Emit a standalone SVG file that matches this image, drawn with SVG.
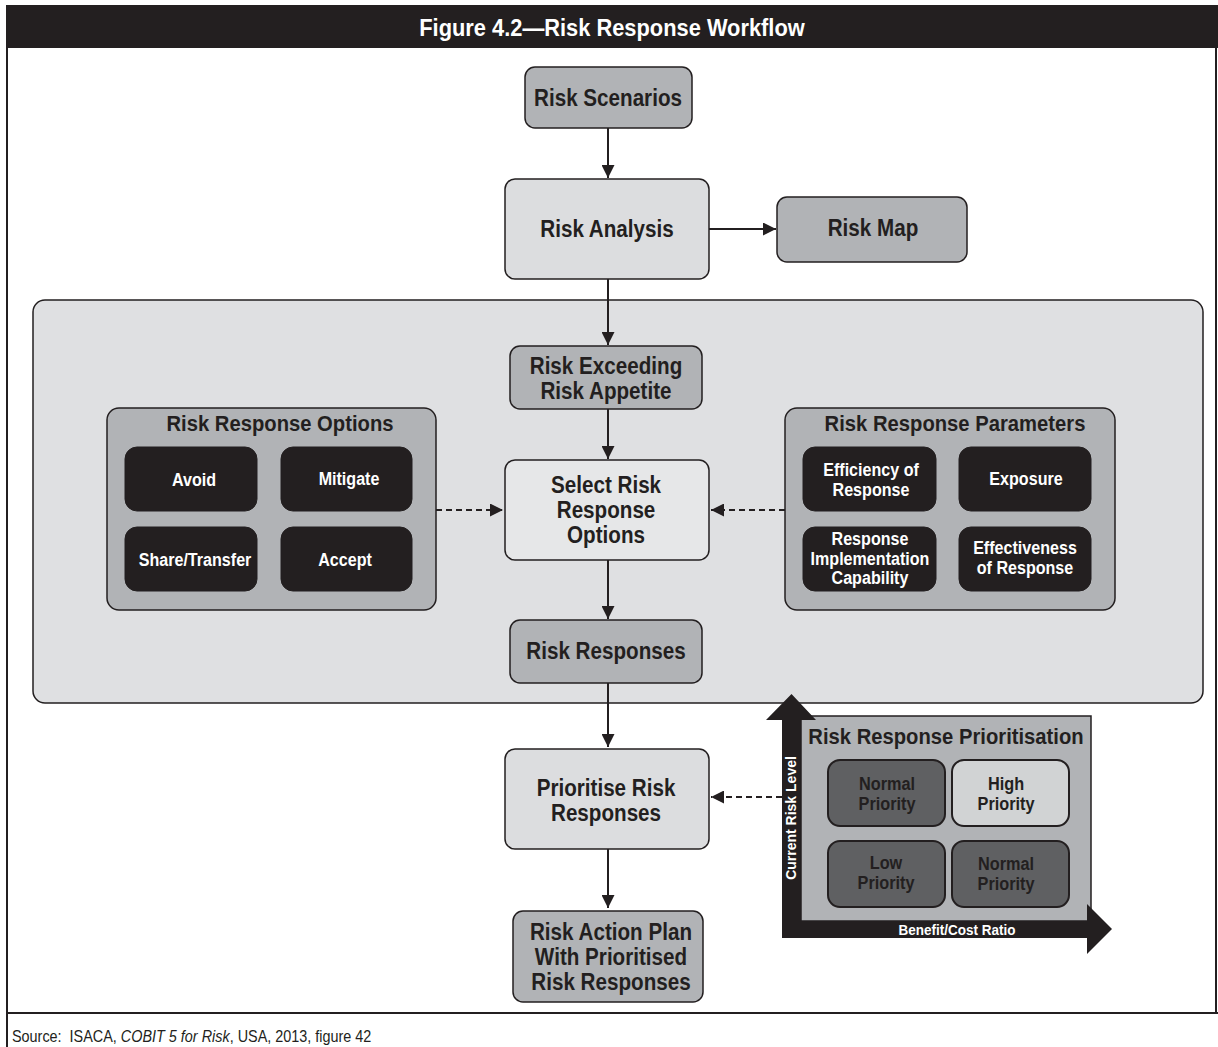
<svg xmlns="http://www.w3.org/2000/svg" width="1218" height="1047" viewBox="0 0 1218 1047">
<defs>
<style>
.lbl{font-family:"Liberation Sans",Arial,sans-serif;font-weight:bold;text-anchor:middle;transform-box:fill-box;transform-origin:center}
.n{font-size:24px;fill:#231f20;transform:scaleX(0.86)}
.g{font-size:22px;fill:#231f20;transform:scaleX(0.92)}
.w{font-size:18.5px;fill:#ffffff;transform:scaleX(0.87)}
.p{font-size:18.5px;fill:#231f20;transform:scaleX(0.88)}
.ttl{font-size:23px;fill:#ffffff;transform:scaleX(0.95)}
.ax{font-size:15px;fill:#ffffff;transform:scaleX(0.9)}
.src{font-family:"Liberation Sans",Arial,sans-serif;font-size:16px;fill:#231f20;transform-box:fill-box;transform-origin:left center;transform:scaleX(0.9)}
.mid{fill:#b1b3b6;stroke:#231f20;stroke-width:1.5}
.light{fill:#dcdddf;stroke:#231f20;stroke-width:1.5}
.lighter{fill:#e6e7e8;stroke:#231f20;stroke-width:1.5}
.blk{fill:#231f20;stroke:#231f20;stroke-width:1}
.dk{fill:#5f6062;stroke:#231f20;stroke-width:2}
.hi{fill:#d1d3d4;stroke:#231f20;stroke-width:2}
.c{stroke:#231f20;stroke-width:2;fill:none}
.d{stroke:#231f20;stroke-width:2;fill:none;stroke-dasharray:6 4}
</style>
<marker id="ah" viewBox="0 0 13 13" refX="13" refY="6.5" markerWidth="13" markerHeight="13" markerUnits="userSpaceOnUse" orient="auto">
<path d="M0,0 L13,6.5 L0,13 Z" fill="#231f20"/>
</marker>
</defs>
<rect width="1218" height="1047" fill="#ffffff"/>
<g id="frame">
<rect x="6" y="5" width="1212" height="43" fill="#231f20"/>
<text x="612" y="36" class="lbl ttl">Figure 4.2—Risk Response Workflow</text>
<line x1="7" y1="48" x2="7" y2="1047" stroke="#231f20" stroke-width="2"/>
<line x1="1216" y1="48" x2="1216" y2="1013" stroke="#231f20" stroke-width="2"/>
<line x1="6" y1="1013" x2="1218" y2="1013" stroke="#231f20" stroke-width="2"/>
<text x="12" y="1042" class="src">Source:&#160; ISACA, <tspan font-style="italic">COBIT 5 for Risk</tspan>, USA, 2013, figure 42</text>
</g>
<g id="panel-main">
<rect x="33" y="300" width="1170" height="403" rx="12" fill="#dfe0e2" stroke="#231f20" stroke-width="1.5"/>
</g>
<g id="risk-scenarios">
<rect x="525" y="67" width="167" height="61" rx="10" class="mid"/>
<text x="608" y="106" class="lbl n">Risk Scenarios</text>
</g>
<g id="risk-analysis">
<rect x="505" y="179" width="204" height="100" rx="10" class="light"/>
<text x="607" y="237" class="lbl n">Risk Analysis</text>
</g>
<g id="risk-map">
<rect x="777" y="197" width="190" height="65" rx="10" class="mid"/>
<text x="873" y="236" class="lbl n">Risk Map</text>
</g>
<g id="risk-exceeding">
<rect x="510" y="346" width="192" height="63" rx="10" class="mid"/>
<text class="lbl n"><tspan x="606" y="374">Risk Exceeding</tspan><tspan x="606" y="399">Risk Appetite</tspan></text>
</g>
<g id="select-options">
<rect x="505" y="460" width="204" height="100" rx="10" class="lighter"/>
<text class="lbl n"><tspan x="606" y="493">Select Risk</tspan><tspan x="606" y="518">Response</tspan><tspan x="606" y="543">Options</tspan></text>
</g>
<g id="risk-responses">
<rect x="510" y="620" width="192" height="63" rx="10" class="mid"/>
<text x="606" y="659" class="lbl n">Risk Responses</text>
</g>
<g id="prioritise">
<rect x="505" y="749" width="204" height="100" rx="10" class="light"/>
<text class="lbl n"><tspan x="606" y="796">Prioritise Risk</tspan><tspan x="606" y="821">Responses</tspan></text>
</g>
<g id="action-plan">
<rect x="513" y="911" width="190" height="91" rx="10" class="mid"/>
<text class="lbl n"><tspan x="611" y="940">Risk Action Plan</tspan><tspan x="611" y="965">With Prioritised</tspan><tspan x="611" y="990">Risk Responses</tspan></text>
</g>
<g id="options-panel">
<rect x="107" y="408" width="329" height="202" rx="12" class="mid"/>
<text x="280" y="431" class="lbl g">Risk Response Options</text>
<g id="opt-avoid"><rect x="125" y="447" width="132" height="64" rx="12" class="blk"/><text x="194" y="486" class="lbl w">Avoid</text></g>
<g id="opt-mitigate"><rect x="281" y="447" width="131" height="64" rx="12" class="blk"/><text x="349" y="485" class="lbl w">Mitigate</text></g>
<g id="opt-share"><rect x="125" y="527" width="132" height="64" rx="12" class="blk"/><text x="195" y="566" class="lbl w">Share/Transfer</text></g>
<g id="opt-accept"><rect x="281" y="527" width="131" height="64" rx="12" class="blk"/><text x="345" y="566" class="lbl w">Accept</text></g>
</g>
<g id="params-panel">
<rect x="785" y="408" width="330" height="202" rx="12" class="mid"/>
<text x="955" y="431" class="lbl g">Risk Response Parameters</text>
<g id="par-efficiency"><rect x="803" y="447" width="133" height="64" rx="12" class="blk"/><text class="lbl w"><tspan x="871" y="476">Efficiency of</tspan><tspan x="871" y="496">Response</tspan></text></g>
<g id="par-exposure"><rect x="959" y="447" width="132" height="64" rx="12" class="blk"/><text x="1026" y="485" class="lbl w">Exposure</text></g>
<g id="par-capability"><rect x="803" y="527" width="133" height="64" rx="12" class="blk"/><text class="lbl w"><tspan x="870" y="545">Response</tspan><tspan x="870" y="565">Implementation</tspan><tspan x="870" y="584">Capability</tspan></text></g>
<g id="par-effectiveness"><rect x="959" y="527" width="132" height="64" rx="12" class="blk"/><text class="lbl w"><tspan x="1025" y="554">Effectiveness</tspan><tspan x="1025" y="574">of Response</tspan></text></g>
</g>
<g id="prioritisation-panel">
<rect x="801" y="716" width="290" height="205" fill="#b1b3b6" stroke="#231f20" stroke-width="1.5"/>
<path d="M782,720 L766,720 L791.5,694 L816,720 L801,720 L801,921 L1087,921 L1087,904 L1112,929 L1087,954 L1087,938 L782,938 Z" fill="#231f20"/>
<text x="946" y="744" class="lbl g">Risk Response Prioritisation</text>
<text transform="translate(796,818) rotate(-90)" style="font-family:'Liberation Sans',Arial,sans-serif;font-weight:bold;font-size:14px;fill:#ffffff;text-anchor:middle">Current Risk Level</text>
<text x="957" y="935" class="lbl ax">Benefit/Cost Ratio</text>
<g id="pr-normal-1"><rect x="828" y="760" width="117" height="66" rx="12" class="dk"/><text class="lbl p"><tspan x="887" y="790">Normal</tspan><tspan x="887" y="810">Priority</tspan></text></g>
<g id="pr-high"><rect x="952" y="760" width="117" height="66" rx="12" class="hi"/><text class="lbl p"><tspan x="1006" y="790">High</tspan><tspan x="1006" y="810">Priority</tspan></text></g>
<g id="pr-low"><rect x="828" y="841" width="117" height="66" rx="12" class="dk"/><text class="lbl p"><tspan x="886" y="869">Low</tspan><tspan x="886" y="889">Priority</tspan></text></g>
<g id="pr-normal-2"><rect x="952" y="841" width="117" height="66" rx="12" class="dk"/><text class="lbl p"><tspan x="1006" y="870">Normal</tspan><tspan x="1006" y="890">Priority</tspan></text></g>
</g>
<g id="connectors">
<line x1="608" y1="128" x2="608" y2="178" class="c" marker-end="url(#ah)"/>
<line x1="709" y1="229" x2="776" y2="229" class="c" marker-end="url(#ah)"/>
<line x1="608" y1="279" x2="608" y2="345" class="c" marker-end="url(#ah)"/>
<line x1="608" y1="409" x2="608" y2="459" class="c" marker-end="url(#ah)"/>
<line x1="608" y1="560" x2="608" y2="619" class="c" marker-end="url(#ah)"/>
<line x1="608" y1="683" x2="608" y2="747" class="c" marker-end="url(#ah)"/>
<line x1="608" y1="849" x2="608" y2="908" class="c" marker-end="url(#ah)"/>
<line x1="436" y1="510" x2="503" y2="510" class="d" marker-end="url(#ah)"/>
<line x1="785" y1="510" x2="711" y2="510" class="d" marker-end="url(#ah)"/>
<line x1="782" y1="797" x2="711" y2="797" class="d" marker-end="url(#ah)"/>
</g>
</svg>
